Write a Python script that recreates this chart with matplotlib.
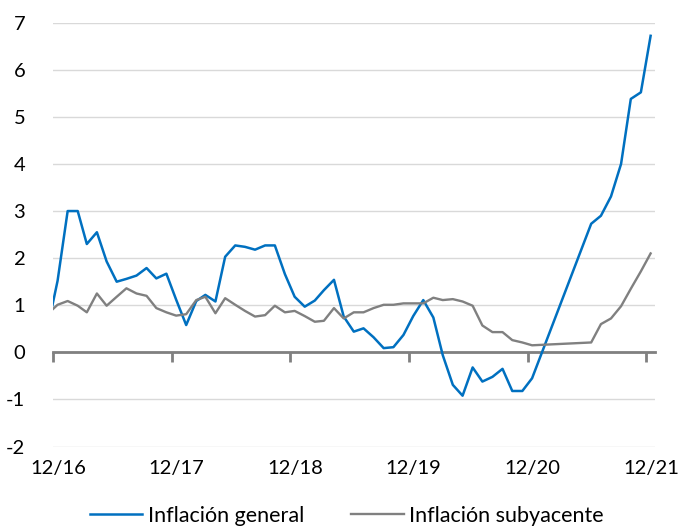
import numpy as np
import pandas as pd
import matplotlib
matplotlib.use("Agg")
import matplotlib.pyplot as plt
import matplotlib.transforms as mtransforms

nan = np.nan

# datos mensuales (a mitad de mes), nov-2016 .. dic-2021; nan = sin dato
meses = pd.date_range("2016-11-01", "2021-12-01", freq="MS") + pd.Timedelta(days=14)

general = [0.54, 1.52, 3.0, 3.0, 2.3, 2.55, 1.93, 1.5, 1.56, 1.63, 1.79, 1.57, 1.67,
           1.12, 0.58, 1.09, 1.22, 1.08, 2.03, 2.27, 2.24, 2.18, 2.27, 2.27, 1.66,
           1.18, 0.97, 1.10, 1.32, 1.54, 0.76, 0.44, 0.51, 0.32, 0.09, 0.11, 0.37,
           0.77, 1.11, 0.74, -0.06, -0.69, -0.92, -0.32, -0.62, -0.52, -0.35, -0.82, -0.82,
           -0.55, nan, nan, nan, nan, nan, 2.73, 2.9, 3.31, 4.0, 5.38, 5.52, 6.72]

subyacente = [0.82, 1.01, 1.09, 0.99, 0.85, 1.25, 0.99, 1.18, 1.36, 1.25, 1.2, 0.94, 0.85,
              0.78, 0.81, 1.11, 1.18, 0.83, 1.15, 1.01, 0.88, 0.76, 0.79, 0.99, 0.85,
              0.88, 0.77, 0.65, 0.67, 0.94, 0.72, 0.85, 0.85, 0.94, 1.01, 1.01, 1.04,
              1.04, 1.04, 1.16, 1.11, 1.13, 1.08, 0.99, 0.57, 0.43, 0.43, 0.26, 0.21,
              0.15, nan, nan, nan, nan, nan, 0.21, 0.6, 0.72, 0.98, 1.35, 1.72, 2.1]

ticks = pd.date_range("2016-12-01", "2021-12-01", freq="12MS")
tick_labels = ["12/16", "12/17", "12/18", "12/19", "12/20", "12/21"]

plt.rcParams['font.family'] = ['Lato', 'DejaVu Sans']
plt.rcParams['font.size'] = 14
plt.rcParams['axes.unicode_minus'] = False

fig = plt.figure(figsize=(6.8, 5.26), dpi=100)
ax = fig.add_axes([0.078, 0.151, 0.885, 0.806])

g = np.array(general)
s = np.array(subyacente)
ok_g = ~np.isnan(g)
ok_s = ~np.isnan(s)
ax.plot(meses[ok_g], g[ok_g], color='#0070C0', lw=1.8, label='Inflación general', zorder=3)
ax.plot(meses[ok_s], s[ok_s], color='#808080', lw=1.7, label='Inflación subyacente', zorder=4)

ax.set_xlim(pd.Timestamp("2016-12-01"), pd.Timestamp("2021-12-28"))
ax.set_ylim(-2, 7)
ax.set_yticks(range(-2, 8))
ax.grid(axis='y', color='#d9d9d9', lw=1)
ax.set_axisbelow(True)

for sp in ['top', 'right', 'left']:
    ax.spines[sp].set_visible(False)
ax.spines['bottom'].set_position(('data', 0))
ax.spines['bottom'].set_color('#808080')
ax.spines['bottom'].set_linewidth(2)
ax.spines['bottom'].set_zorder(2)

ax.set_xticks(ticks)
ax.tick_params(axis='x', direction='out', length=7, width=2, color='#808080', labelbottom=False)
ax.tick_params(axis='y', length=0, pad=20, labelcolor='black', labelsize=14.5)

sec = ax.secondary_xaxis(0)
sec.set_xticks(ticks)
sec.set_xticklabels(tick_labels)
sec.tick_params(length=0, pad=10, labelsize=14.5)
sec.spines['bottom'].set_visible(False)
shift = mtransforms.ScaledTranslation(5 / 100, 0, fig.dpi_scale_trans)
for lab in sec.get_xticklabels():
    lab.set_transform(lab.get_transform() + shift)

fig.legend(loc='lower center', bbox_to_anchor=(0.51, -0.036), ncol=2, frameon=False,
           fontsize=15.5, handlelength=2.45, columnspacing=2.2, handletextpad=0.25)

fig.savefig('out.png', dpi=100)
